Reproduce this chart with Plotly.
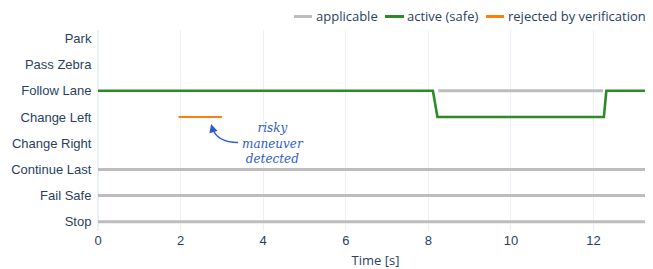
import plotly.graph_objects as go

# ---- data ----
categories = ["Stop", "Fail Safe", "Continue Last", "Change Right",
              "Change Left", "Follow Lane", "Pass Zebra", "Park"]

series_names = ["applicable", "active (safe)", "rejected by verification"]
series_colors = ["#bdbdbd", "#2b8c25", "#ff7f0e"]

# applicable (segments separated by None)
applicable_t = [0, 14, None, 0, 14, None, 0, 14, None, 8.24, 12.23]
applicable_y = ["Stop", "Stop", None, "Fail Safe", "Fail Safe", None,
                "Continue Last", "Continue Last", None, "Follow Lane", "Follow Lane"]

# active (safe)
active_t = [0, 8.11, 8.22, 12.25, 12.31, 14]
active_y = ["Follow Lane", "Follow Lane", "Change Left", "Change Left",
            "Follow Lane", "Follow Lane"]

# rejected by verification
rejected_t = [1.95, 3.0]
rejected_y = ["Change Left", "Change Left"]

note_text = "risky<br>maneuver<br>detected"
note_t = 4.24
note_y = "Change Right"

x_range = [0, 13.44]
y_range = [-0.35, 7.32]

# ---- figure ----
fig = go.Figure()
fig.add_trace(go.Scatter(x=applicable_t, y=applicable_y, mode="lines", name=series_names[0],
                         line=dict(color=series_colors[0], width=3), showlegend=False))
fig.add_trace(go.Scatter(x=active_t, y=active_y, mode="lines", name=series_names[1],
                         line=dict(color=series_colors[1], width=2.6), showlegend=False))
fig.add_trace(go.Scatter(x=rejected_t, y=rejected_y, mode="lines", name=series_names[2],
                         line=dict(color=series_colors[2], width=2), showlegend=False))

W, H = 645, 261
ml, mr, mt, mb = 90, 0, 22, 38
pw = W - ml - mr
ph = H - mt - mb
OFF = 8  # page body offset


def px2paper_x(px):
    return (px - OFF - ml) / pw


def px2paper_y(py):
    return (H - mb - (py - OFF)) / ph


# manual compact legend
LEG_SHIFT = -9
leg_sym = [(303, 321), (394, 413), (495, 513)]
leg_txt = [324, 415, 516]
leg_y = px2paper_y(16.5)
shapes = []
annotations = []
for name, col, (s0, s1), tx in zip(series_names, series_colors, leg_sym, leg_txt):
    shapes.append(dict(type="line", xref="paper", yref="paper",
                       x0=px2paper_x(s0 + LEG_SHIFT), x1=px2paper_x(s1 + LEG_SHIFT),
                       y0=leg_y, y1=leg_y,
                       line=dict(color=col, width=3)))
    annotations.append(dict(text=name, xref="paper", yref="paper",
                            x=px2paper_x(tx + LEG_SHIFT), y=leg_y,
                            xanchor="left", yanchor="middle", showarrow=False, borderpad=0,
                            font=dict(family="Open Sans, verdana, arial, sans-serif",
                                      size=13, color="#2a3f5f")))

note_color = "#2d5cd0"
# annotation text
annotations.append(dict(text=note_text, x=note_t, y=note_y, xref="x", yref="y",
                        showarrow=False, align="center",
                        font=dict(family="DejaVu Serif", size=12, color=note_color,
                                  style="italic")))
# curved arrow body
x_s, x_c, x_e = 3.39, 2.88, 2.77
y_s, y_c, y_e = px2paper_y(142.5), px2paper_y(142.5), px2paper_y(128)
shapes.append(dict(type="path", xref="x", yref="paper",
                   path=f"M {x_s},{y_s} Q {x_c},{y_c} {x_e},{y_e}",
                   line=dict(color=note_color, width=1.3)))
# arrow head
annotations.append(dict(text="", x=2.74, y=px2paper_y(124), xref="x", yref="paper",
                        ax=2, ay=7, showarrow=True, arrowhead=2, arrowsize=1.3,
                        arrowwidth=1.3, arrowcolor=note_color, standoff=0))

tick_font = dict(family="Liberation Sans, Arial, sans-serif", size=13, color="#2a3f5f")

fig.update_layout(
    template="plotly_white",
    width=W, height=H,
    margin=dict(l=ml, r=mr, t=mt, b=mb, autoexpand=False),
    font=dict(family="Open Sans, verdana, arial, sans-serif", size=13, color="#2a3f5f"),
    showlegend=False,
    shapes=shapes,
    annotations=annotations,
    xaxis=dict(range=x_range, dtick=2,
               title=dict(text="Time [s]", font=dict(size=13), standoff=10),
               tickfont=tick_font,
               showgrid=True, zeroline=True, showline=False),
    yaxis=dict(type="category", categoryorder="array", categoryarray=categories,
               range=y_range, showgrid=False, zeroline=False,
               tickvals=categories, tickfont=tick_font,
               ticks="outside", ticklen=3, tickcolor="rgba(0,0,0,0)"),
)

fig.write_html("out.html")
